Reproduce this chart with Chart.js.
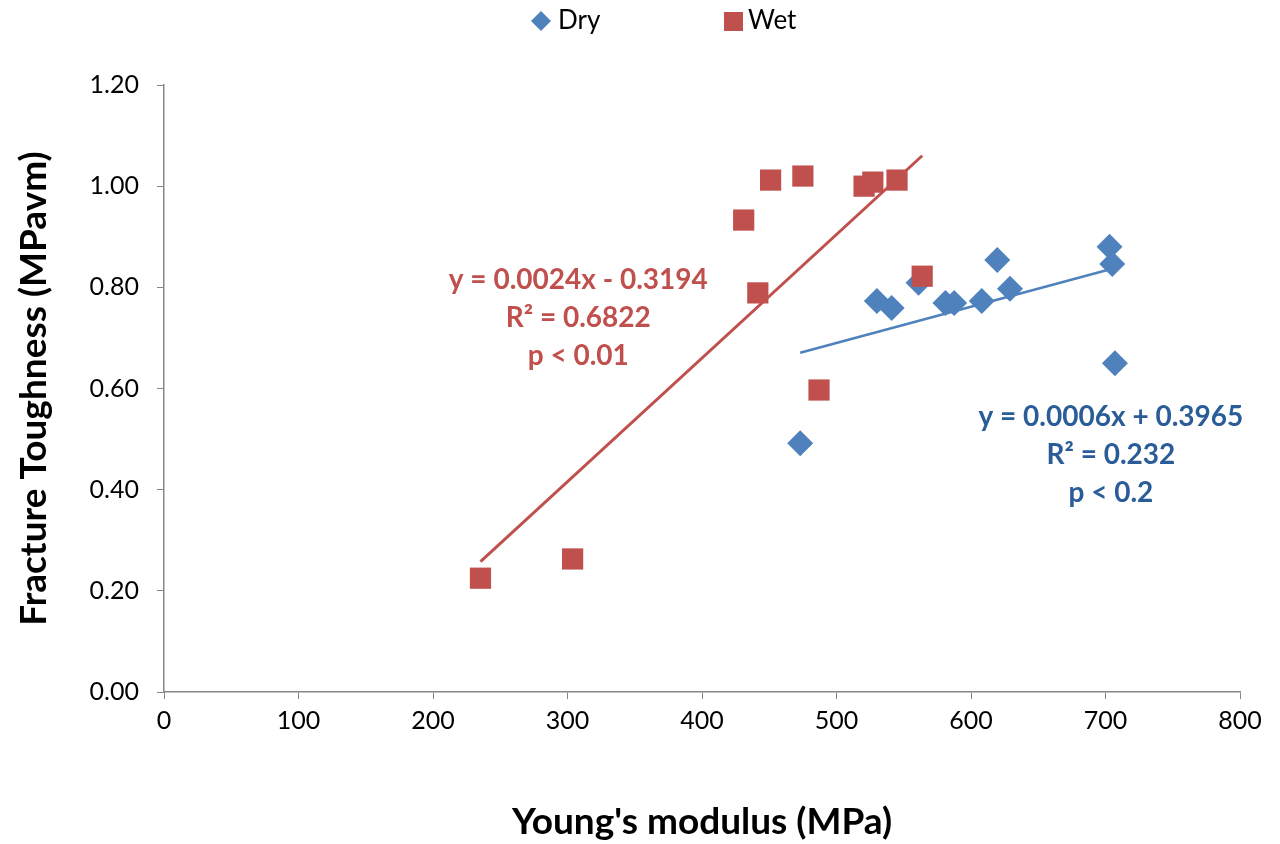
<!DOCTYPE html>
<html>
<head>
<meta charset="utf-8">
<script src="https://cdn.jsdelivr.net/npm/chart.js@4.4.0/dist/chart.umd.min.js"></script>
<style>
  html, body { margin: 0; padding: 0; background: #fff; }
</style>
</head>
<body>
<canvas id="myScatterChart" width="1280" height="844"></canvas>
<script>
// values
const dryModulus   = [473, 530, 541, 561, 581, 587.5, 608, 619.5, 629, 703, 705, 707];
const dryToughness = [0.492, 0.773, 0.759, 0.809, 0.769, 0.769, 0.773, 0.854, 0.797, 0.880, 0.846, 0.650];

const wetModulus   = [235.3, 303.8, 431, 441.5, 451, 475, 487, 520.5, 527, 545, 563.7];
const wetToughness = [0.225, 0.263, 0.933, 0.789, 1.012, 1.020, 0.597, 1.000, 1.008, 1.012, 0.822];

const xTicks = [0, 100, 200, 300, 400, 500, 600, 700, 800];
const yTicks = [0, 0.2, 0.4, 0.6, 0.8, 1.0, 1.2];

const dryNote = ["y = 0.0006x + 0.3965", "R\u00B2 = 0.232", "p < 0.2"];
const wetNote = ["y = 0.0024x - 0.3194", "R\u00B2 = 0.6822", "p < 0.01"];

const RED = "#C0504D";
const BLUE = "#4F81BD";
const BLUE_TEXT = "#2A5C98";
const AXIS = "#868686";
const FONT = "Lato, 'Open Sans', sans-serif";

function toPoints(xs, ys) {
    return xs.map((x, i) => ({ x: x, y: ys[i] }));
}

// least squares trendline, drawn between the smallest and largest x
function trendline(xs, ys) {
    const n = xs.length;
    const mx = xs.reduce((a, b) => a + b, 0) / n;
    const my = ys.reduce((a, b) => a + b, 0) / n;
    let sxy = 0, sxx = 0;
    for (let i = 0; i < n; i++) {
        sxy += (xs[i] - mx) * (ys[i] - my);
        sxx += (xs[i] - mx) * (xs[i] - mx);
    }
    const slope = sxy / sxx;
    const icpt = my - slope * mx;
    const x0 = Math.min(...xs), x1 = Math.max(...xs);
    return [{ x: x0, y: slope * x0 + icpt }, { x: x1, y: slope * x1 + icpt }];
}

// equation text next to each trendline
const notesPlugin = {
    id: "notes",
    afterDatasetsDraw(chart) {
        const { ctx, scales } = chart;
        const drawNote = (lines, atX, atY, color) => {
            const cx = scales.x.getPixelForValue(atX);
            const cy = scales.y.getPixelForValue(atY);
            ctx.save();
            ctx.font = "bold 28px " + FONT;
            ctx.fillStyle = color;
            ctx.textAlign = "center";
            ctx.textBaseline = "middle";
            lines.forEach((t, i) => ctx.fillText(t, cx, cy + i * 38));
            ctx.restore();
        };
        drawNote(wetNote, 308, 0.815, RED);
        drawNote(dryNote, 704, 0.544, BLUE_TEXT);
    }
};

// legend row on top, only the two data series
const legendPlugin = {
    id: "topLegend",
    afterDraw(chart) {
        const ctx = chart.ctx;
        const mid = chart.width / 2;
        const y = 21;
        ctx.save();
        ctx.font = "26px " + FONT;
        ctx.textBaseline = "middle";
        ctx.fillStyle = BLUE;
        ctx.beginPath();
        ctx.moveTo(mid - 109, y);
        ctx.lineTo(mid - 99, y - 10);
        ctx.lineTo(mid - 89, y);
        ctx.lineTo(mid - 99, y + 10);
        ctx.closePath();
        ctx.fill();
        ctx.fillStyle = "#000";
        ctx.fillText(chart.data.datasets[0].label, mid - 82, y);
        ctx.fillStyle = RED;
        ctx.fillRect(mid + 84, y - 9, 19, 19);
        ctx.fillStyle = "#000";
        ctx.fillText(chart.data.datasets[1].label, mid + 108, y);
        ctx.restore();
    }
};

const ctx = document.getElementById("myScatterChart").getContext("2d");

new Chart(ctx, {
    type: "scatter",
    data: {
        datasets: [
            {
                label: "Dry",
                data: toPoints(dryModulus, dryToughness),
                pointStyle: "rectRot",
                pointRadius: 13,
                pointHoverRadius: 13,
                backgroundColor: BLUE,
                borderColor: BLUE,
                borderWidth: 0,
                order: 3,
            },
            {
                label: "Wet",
                data: toPoints(wetModulus, wetToughness),
                pointStyle: "rect",
                pointRadius: 15,
                pointHoverRadius: 15,
                backgroundColor: RED,
                borderColor: RED,
                borderWidth: 0,
                order: 2,
            },
            {
                label: "Dry trend",
                data: trendline(dryModulus, dryToughness),
                showLine: true,
                borderColor: BLUE,
                borderWidth: 2.5,
                pointRadius: 0,
                order: 1,
            },
            {
                label: "Wet trend",
                data: trendline(wetModulus, wetToughness),
                showLine: true,
                borderColor: RED,
                borderWidth: 3,
                pointRadius: 0,
                order: 0,
            },
        ],
    },
    options: {
        responsive: false,
        animation: false,
        devicePixelRatio: 1,
        layout: {
            padding: { top: 85, right: 40, left: 0, bottom: 0 },
        },
        plugins: {
            legend: { display: false },
            tooltip: { enabled: false },
        },
        scales: {
            x: {
                type: "linear",
                min: 0,
                max: 800,
                afterBuildTicks: (scale) => {
                    scale.ticks = xTicks.map((v) => ({ value: v }));
                },
                afterFit: (scale) => {
                    scale.height = 152;
                },
                grid: { drawOnChartArea: false, drawTicks: true, tickLength: 7, color: AXIS },
                border: { color: AXIS, width: 1.5 },
                ticks: {
                    color: "#000",
                    padding: 7,
                    font: { family: FONT, size: 25 },
                    callback: (v) => v,
                },
                title: {
                    display: true,
                    text: "Young's modulus (MPa)",
                    color: "#000",
                    font: { family: FONT, size: 37, weight: "bold" },
                    padding: { top: 0, bottom: 0 },
                },
            },
            y: {
                type: "linear",
                min: 0,
                max: 1.2,
                afterBuildTicks: (scale) => {
                    scale.ticks = yTicks.map((v) => ({ value: v }));
                },
                afterFit: (scale) => {
                    scale.width = 164;
                },
                grid: { drawOnChartArea: false, drawTicks: true, tickLength: 7, color: AXIS },
                border: { color: AXIS, width: 1.5 },
                ticks: {
                    color: "#000",
                    padding: 18,
                    font: { family: FONT, size: 25 },
                    callback: (v) => Number(v).toFixed(2),
                },
                title: {
                    display: true,
                    text: "Fracture Toughness (MPavm)",
                    color: "#000",
                    font: { family: FONT, size: 37, weight: "bold" },
                    padding: { top: 12, bottom: 0 },
                },
            },
        },
    },
    plugins: [notesPlugin, legendPlugin],
});
</script>
</body>
</html>
